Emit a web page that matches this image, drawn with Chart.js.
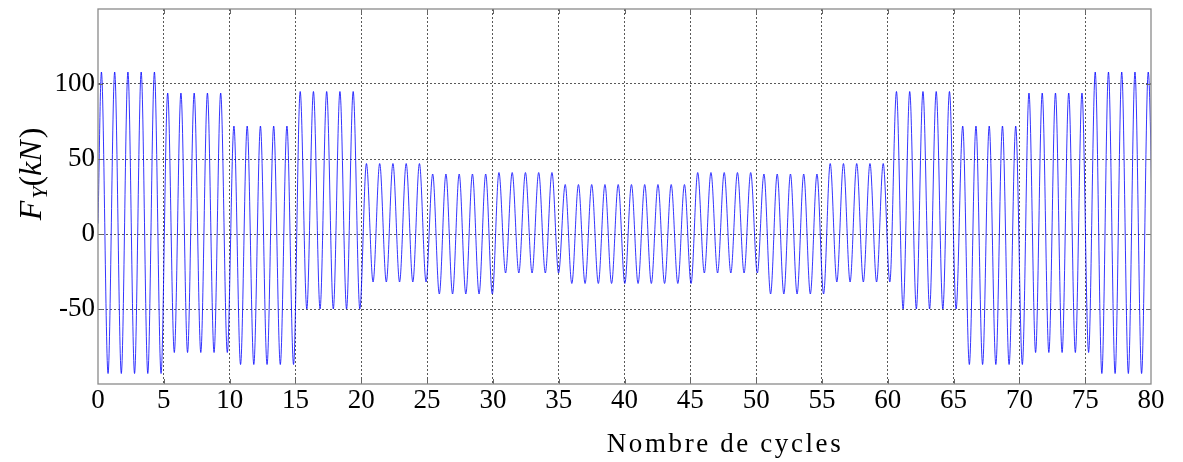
<!DOCTYPE html>
<html><head><meta charset="utf-8">
<script src="https://cdn.jsdelivr.net/npm/chart.js@4.4.1/dist/chart.umd.min.js"></script>
<style>html,body{margin:0;padding:0;background:#fff;}#wrap{width:1183px;height:462px;}</style>
</head><body><div id="wrap"><canvas id="c" width="1183" height="462"></canvas></div>
<script>
// Peak and trough force (kN) of each block of 5 cycles
const blockPeak   = [108, 94, 72, 95, 47, 40, 41, 33, 33, 41, 40, 47, 95, 72, 94, 108];
const blockTrough = [-93, -79, -87, -50, -32, -40, -26, -33, -33, -26, -40, -32, -50, -87, -79, -93];
const cyclesPerBlock = 5;
const firstPeakX = 0.26;     // position of the first peak (cycles)
const cycleLength = 1.0067;  // measured spacing between successive peaks
const startValue = 7;        // value at x = 0
const xTickValues = [0, 5, 10, 15, 20, 25, 30, 35, 40, 45, 50, 55, 60, 65, 70, 75, 80];
const yTickValues = [-50, 0, 50, 100];
const xTitle = 'Nombre de cycles';

const points = [{x: 0, y: startValue}];
blockPeak.forEach((pk, b) => {
  for (let c = 0; c < cyclesPerBlock; c++) {
    const k = b * cyclesPerBlock + c;
    const xp = firstPeakX + k * cycleLength;
    points.push({x: xp, y: pk});
    points.push({x: xp + cycleLength / 2, y: blockTrough[b]});
  }
});

const serif = '"Liberation Serif", "DejaVu Serif", serif';
const gridColor = 'rgba(60,60,60,0.85)';

const framePlugin = {
  id: 'frame',
  afterDraw(chart) {
    const {ctx, chartArea: a, scales: {x, y}} = chart;
    ctx.save();
    // inward tick marks
    ctx.strokeStyle = '#666';
    ctx.lineWidth = 1;
    ctx.beginPath();
    xTickValues.forEach(v => {
      if (v === 0 || v === 80) return;
      const px = Math.round(x.getPixelForValue(v)) + 0.5;
      ctx.moveTo(px, a.bottom); ctx.lineTo(px, a.bottom - 5);
      ctx.moveTo(px, a.top); ctx.lineTo(px, a.top + 5);
    });
    yTickValues.forEach(v => {
      const py = Math.round(y.getPixelForValue(v)) + 0.5;
      ctx.moveTo(a.left, py); ctx.lineTo(a.left + 5, py);
      ctx.moveTo(a.right, py); ctx.lineTo(a.right - 5, py);
    });
    ctx.stroke();
    // frame
    ctx.strokeStyle = '#8a8a8a';
    ctx.lineWidth = 1.3;
    ctx.strokeRect(a.left, a.top, a.right - a.left, a.bottom - a.top);
    // x title
    ctx.fillStyle = '#000';
    ctx.font = '27px ' + serif;
    try { ctx.letterSpacing = '2.6px'; } catch (e) {}
    ctx.textAlign = 'center';
    ctx.textBaseline = 'alphabetic';
    ctx.fillText(xTitle, 725, 452);
    try { ctx.letterSpacing = '0px'; } catch (e) {}
    // y title  F_Y(kN)
    ctx.translate(41, 174);
    ctx.rotate(-Math.PI / 2);
    const parts = [
      {t: 'F', f: 'italic 32px ' + serif, dy: 0},
      {t: 'Y', f: 'italic 22px ' + serif, dy: 6},
      {t: '(', f: '32px ' + serif, dy: 0},
      {t: 'k', f: 'italic 32px ' + serif, dy: 0},
      {t: 'N', f: 'italic 32px ' + serif, dy: 0},
      {t: ')', f: '32px ' + serif, dy: 0}
    ];
    let total = 0;
    parts.forEach(p => { ctx.font = p.f; p.w = ctx.measureText(p.t).width + (p.t === 'F' || p.t === 'N' ? 2 : 0); total += p.w; });
    let cx = -total / 2;
    ctx.textAlign = 'left';
    parts.forEach(p => { ctx.font = p.f; ctx.fillText(p.t, cx, p.dy); cx += p.w; });
    ctx.restore();
  }
};

new Chart(document.getElementById('c'), {
  type: 'line',
  data: {
    datasets: [{
      data: points,
      borderColor: '#0000ff',
      borderWidth: 0.8,
      pointRadius: 0,
      fill: false,
      cubicInterpolationMode: 'monotone'
    }]
  },
  options: {
    responsive: false,
    animation: false,
    layout: {padding: {top: 9, right: 32, left: 0, bottom: 0}},
    plugins: {legend: {display: false}, tooltip: {enabled: false}},
    scales: {
      x: {
        type: 'linear', min: 0, max: 80,
        afterBuildTicks: s => { s.ticks = xTickValues.map(v => ({value: v})); },
        afterFit: s => { s.height = 78; s.paddingLeft = 0; s.paddingRight = 0; },
        ticks: {font: {family: serif, size: 27}, color: '#000', padding: 1, maxRotation: 0, autoSkip: false},
        grid: {
          color: c => (c.tick && (c.tick.value === 0 || c.tick.value === 80)) ? 'rgba(0,0,0,0)' : gridColor,
          drawTicks: false, lineWidth: 1
        },
        border: {display: false, dash: [2, 2]}
      },
      y: {
        min: -100, max: 150,
        afterBuildTicks: s => { s.ticks = yTickValues.map(v => ({value: v})); },
        afterFit: s => { s.width = 98; s.paddingTop = 0; s.paddingBottom = 0; },
        ticks: {font: {family: serif, size: 27}, color: '#000', padding: 3},
        grid: {color: gridColor, drawTicks: false, lineWidth: 1},
        border: {display: false, dash: [2, 2]}
      }
    }
  },
  plugins: [framePlugin]
});
</script>
</body></html>
